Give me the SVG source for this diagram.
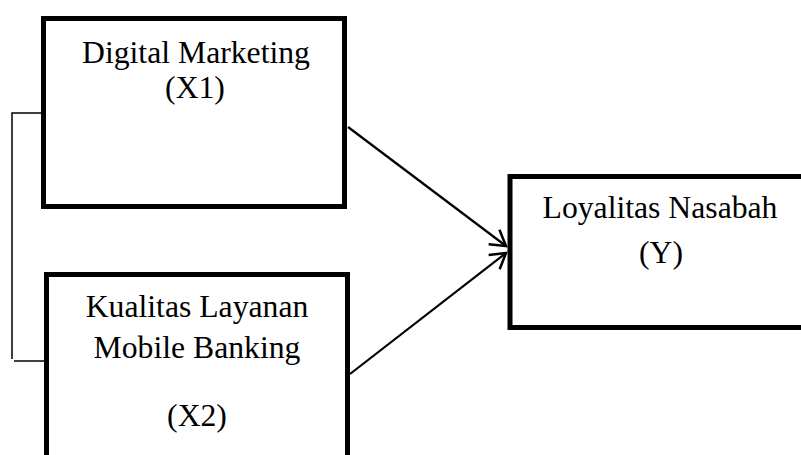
<svg xmlns="http://www.w3.org/2000/svg" width="801" height="455" viewBox="0 0 801 455">
<style>
.box{fill:#fff;stroke:#000;stroke-width:5}
.t{font-family:"Liberation Serif","Times New Roman",serif;font-size:31.7px;fill:#000;text-anchor:middle}
.c{fill:none;stroke:#000;stroke-width:2.2}
.thin{fill:none;stroke:#000;stroke-width:1.5}
</style>
<defs>
<marker id="arr" markerUnits="userSpaceOnUse" markerWidth="30" markerHeight="30" viewBox="-20 -15 30 30" refX="0" refY="0" orient="auto">
<path d="M-15,-9 L0,0 L-15,9" fill="none" stroke="#000" stroke-width="2.5"/>
</marker>
</defs>
<rect width="801" height="455" fill="#fff"/>
<g id="connectors">
<path class="thin" d="M41,113 H12 V359"/>
<path class="thin" d="M14,361 H44"/>
<line class="c" x1="348" y1="127" x2="506" y2="246" marker-end="url(#arr)"/>
<line class="c" x1="350" y1="374" x2="506" y2="253" marker-end="url(#arr)"/>
</g>
<g id="x1">
<rect class="box" x="43.5" y="18.5" width="301" height="188"/>
<text class="t" x="196" y="63">Digital Marketing</text>
<text class="t" x="195" y="98">(X1)</text>
</g>
<g id="x2">
<rect class="box" x="46.5" y="274.5" width="301" height="200"/>
<text class="t" x="197" y="317">Kualitas Layanan</text>
<text class="t" x="197" y="358">Mobile Banking</text>
<text class="t" x="197" y="426">(X2)</text>
</g>
<g id="y">
<rect class="box" x="510" y="176.5" width="300" height="151"/>
<text class="t" x="660" y="218">Loyalitas Nasabah</text>
<text class="t" x="661" y="263">(Y)</text>
</g>
</svg>
